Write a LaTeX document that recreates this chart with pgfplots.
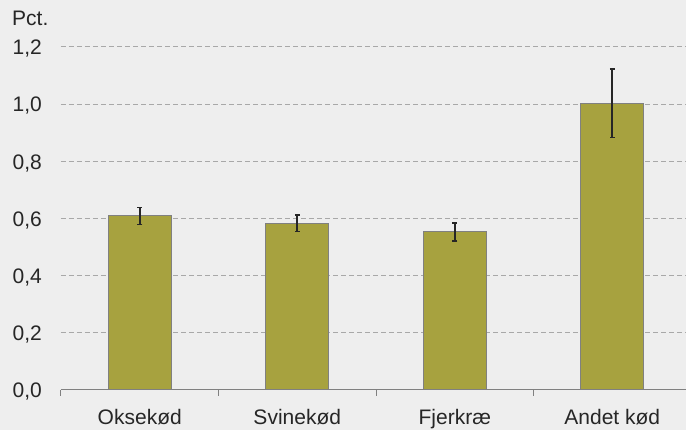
\documentclass[border=0pt]{standalone}
\usepackage{fontspec}
\setmainfont{Liberation Sans}
\usepackage{pgfplots}
\pgfplotsset{compat=1.18}
\definecolor{Bg}{HTML}{EEEEEE}
\definecolor{Bar}{HTML}{A7A23F}
\definecolor{Edge}{HTML}{808080}
\definecolor{Grid}{HTML}{A8A8A8}
\definecolor{Txt}{HTML}{262626}
\newcommand\lbl{\fontsize{21}{25}\selectfont}

\begin{document}
\begin{tikzpicture}[x=1pt,y=1pt]
\fill[Bg] (0,0) rectangle (686,430);
\begin{axis}[
  at={(61pt,40pt)},anchor=south west,
  scale only axis,width=625pt,height=343pt,
  xmin=-0.5,xmax=3.468,ymin=0,ymax=1.2,
  axis lines*=left,
  x axis line style={draw=Edge,line width=1pt},
  y axis line style={draw=none},
  tick style={draw=none},
  ytick={0,0.2,0.4,0.6,0.8,1.0,1.2},
  xtick={0,1,2,3},
  xticklabels={Oksekød,Svinekød,Fjerkræ,Andet kød},
  extra x ticks={-0.5,0.5,1.5,2.5},
  extra x tick labels={},
  extra x tick style={tick style={draw=Edge,line width=1pt},
    major tick length=6pt,tick align=outside},
  ymajorgrids,
  grid style={draw=Grid,line width=1pt,dash pattern=on 5pt off 3pt},
  /pgf/number format/.cd,fixed,fixed zerofill,precision=1,use comma,
    assume math mode=true,
  /pgfplots/.cd,
  yticklabel style={font=\lbl,text=Txt,anchor=base east,inner sep=0pt,
    xshift=-19pt,yshift=-7.7pt},
  xticklabel style={font=\lbl,text=Txt,anchor=base,inner sep=0pt,
    yshift=-35pt},
]
\addplot[ybar,bar width=63pt,fill=Bar,draw=Edge,line width=1pt,
  error bars/.cd,y dir=both,y explicit,
  error bar style={draw=Txt,line width=2pt},
  error mark options={rotate=90,draw=Txt,line width=1.5pt,mark size=2.5pt}]
  coordinates {
    (0,0.609) +- (0,0.030)
    (1,0.583) +- (0,0.029)
    (2,0.553) +- (0,0.032)
    (3,1.003) +- (0,0.120)
  };
\end{axis}
\node[anchor=base west,inner sep=0pt,font=\lbl,text=Txt] at (12,404) {Pct.};
\pgfresetboundingbox
\path[use as bounding box] (0,0) rectangle (686,430);
\end{tikzpicture}
\end{document}
